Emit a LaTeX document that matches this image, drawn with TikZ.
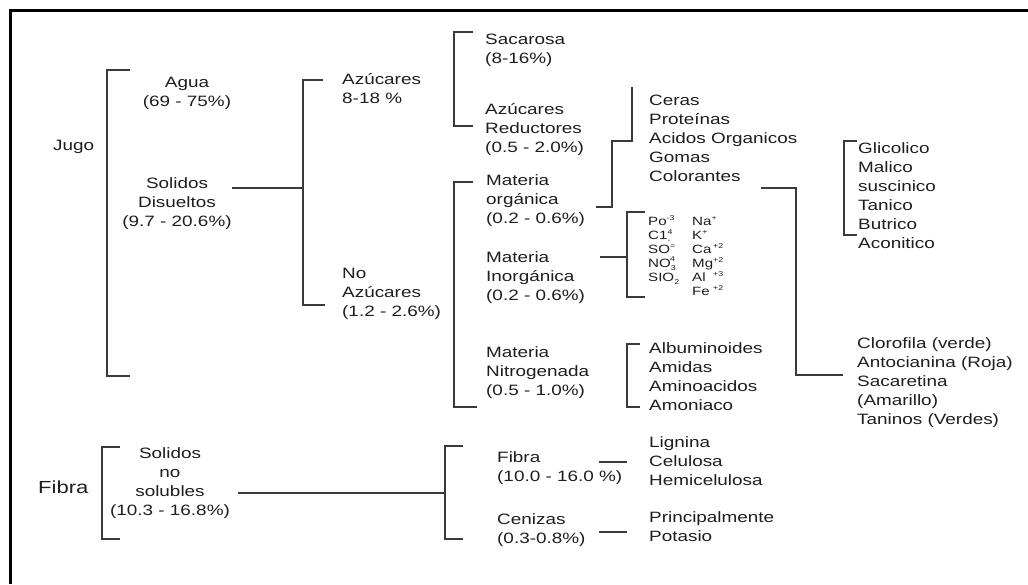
\documentclass[tikz,border=0pt]{standalone}
\usepackage{fontspec}
\setmainfont{Liberation Sans}[FakeStretch=1.26]
\definecolor{ink}{HTML}{1E1E1E}
\definecolor{rulegray}{HTML}{3A3A3A}
% small raised / lowered marks for the ion formulas
\newcommand{\ionup}[1]{\smash{\raisebox{0.42em}{\fontsize{7}{7}\selectfont #1}}}
\newcommand{\iondn}[1]{\smash{\raisebox{-0.3em}{\fontsize{7}{7}\selectfont #1}}}
\newcommand{\iondeep}[1]{\smash{\raisebox{-0.7em}{\fontsize{7}{7}\selectfont #1}}}
\newcommand{\ionud}[2]{\rlap{\ionup{#1}}\iondn{#2}}
\begin{document}
\begin{tikzpicture}[x=1pt,y=-1pt,
  basetext/.style={inner sep=0pt, text=ink, font=\fontsize{15}{19}\selectfont},
  lefttext/.style={basetext, align=left, anchor=west},
  ctrtext/.style={basetext, align=center},
  ionlist/.style={inner sep=0pt, text=ink, align=left, anchor=north west,
                  font=\fontsize{12}{14}\selectfont},
  brk/.style={draw=rulegray, line width=1.2pt},
  outerframe/.style={draw=black, line width=3pt}]
\useasboundingbox (0,0) rectangle (1028,584);
\fill[white] (0,0) rectangle (1028,584);
\draw[outerframe] (10,584) -- (10,10) -- (1028,10);

% ---- Jugo ----
\node[basetext, anchor=base west] (jugo) at (53,150.4) {Jugo};
\node[ctrtext] (agua) at (187,93) {Agua\\(69 - 75\%)};
\node[ctrtext] (solidos) at (177,204) {Solidos\\Disueltos\\(9.7 - 20.6\%)};
\node[lefttext] (azu) at (342,88.5) {Azúcares\\8-18 \%};
\node[lefttext] (noazu) at (342,294) {No\\Azúcares\\(1.2 - 2.6\%)};
\node[lefttext] (sac) at (485,50) {Sacarosa\\(8-16\%)};
\node[lefttext] (red) at (485,129.5) {Azúcares\\Reductores\\(0.5 - 2.0\%)};
\node[lefttext] (morg) at (486,200.5) {Materia\\orgánica\\(0.2 - 0.6\%)};
\node[lefttext] (minorg) at (486,277.5) {Materia\\Inorgánica\\(0.2 - 0.6\%)};
\node[lefttext] (mnitro) at (486,372.5) {Materia\\Nitrogenada\\(0.5 - 1.0\%)};
\node[lefttext] (ceras) at (649,138) {Ceras\\Proteínas\\Acidos Organicos\\Gomas\\Colorantes};
\node[lefttext] (acidos) at (858,195.5) {Glicolico\\Malico\\suscinico\\Tanico\\Butrico\\Aconitico};
\node[lefttext] (color) at (857,383) {Clorofila (verde)\\Antocianina (Roja)\\Sacaretina\\(Amarillo)\\Taninos (Verdes)};
\node[ionlist] (ionsa) at (648,216.7)
  {Po\ionup{-3}\\C1\ionud{4}{-}\\SO\rlap{\ionup{=}}\iondeep{4}\\NO\iondn{3}\\SIO\iondn{2}};
\node[ionlist] (ionsb) at (692,216.7)
  {Na\ionup{+}\\K\ionup{+}\\\makebox[21pt][l]{Ca}\ionup{+2}\\\makebox[21pt][l]{Mg}\ionup{+2}\\\makebox[21pt][l]{Al}\ionup{+3}\\\makebox[21pt][l]{Fe}\ionup{+2}};
\node[lefttext] (albu) at (649,377) {Albuminoides\\Amidas\\Aminoacidos\\Amoniaco};

% ---- Fibra ----
\node[basetext, anchor=base west, font=\fontsize{17.5}{21}\selectfont] (fibra) at (38,493.3) {Fibra};
\node[ctrtext] (sns) at (170,483) {Solidos\\no\\solubles\\(10.3 - 16.8\%)};
\node[lefttext] (fib) at (497,468) {Fibra\\(10.0 - 16.0 \%)};
\node[lefttext] (cen) at (497,530) {Cenizas\\(0.3-0.8\%)};
\node[lefttext] (lig) at (649,461) {Lignina\\Celulosa\\Hemicelulosa};
\node[lefttext] (pot) at (649,526.5) {Principalmente\\Potasio};

% ---- brackets ----
\draw[brk] (130,70) -- (107,70) -- (107,376) -- (130,376);
\draw[brk] (323,80) -- (303,80) -- (303,305) -- (325,305);
\draw[brk] (473,32) -- (454,32) -- (454,126) -- (473,126);
\draw[brk] (473,182) -- (454,182) -- (454,407) -- (477,407);
\draw[brk] (645,212) -- (627,212) -- (627,297) -- (645,297);
\draw[brk] (857,141) -- (844,141) -- (844,235) -- (857,235);
\draw[brk] (640,344) -- (627,344) -- (627,407) -- (640,407);
\draw[brk] (120,447) -- (102,447) -- (102,539) -- (120,539);
\draw[brk] (463,446) -- (445,446) -- (445,539) -- (463,539);

% ---- connectors ----
\coordinate (sdj) at (303,188);
\draw[brk] (solidos.east |- sdj) -- (sdj);
\coordinate (mo) at (596,207);
\draw[brk] (mo) -- (612,207) |- (632,141) -- (632,87);
\coordinate (ct) at (761,188);
\draw[brk] (ct) -- (796,188) -- (796,375) -- (843,375);
\coordinate (mi) at (600,257);
\draw[brk] (mi) -- (627,257);
\coordinate (fj) at (445,493);
\draw[brk] ([xshift=8pt]sns.east |- fj) -- (fj);
\coordinate (d1) at (599,462);
\draw[brk] (d1) -- ++(28,0);
\coordinate (d2) at (599,532);
\draw[brk] (d2) -- ++(28,0);
\end{tikzpicture}
\end{document}
